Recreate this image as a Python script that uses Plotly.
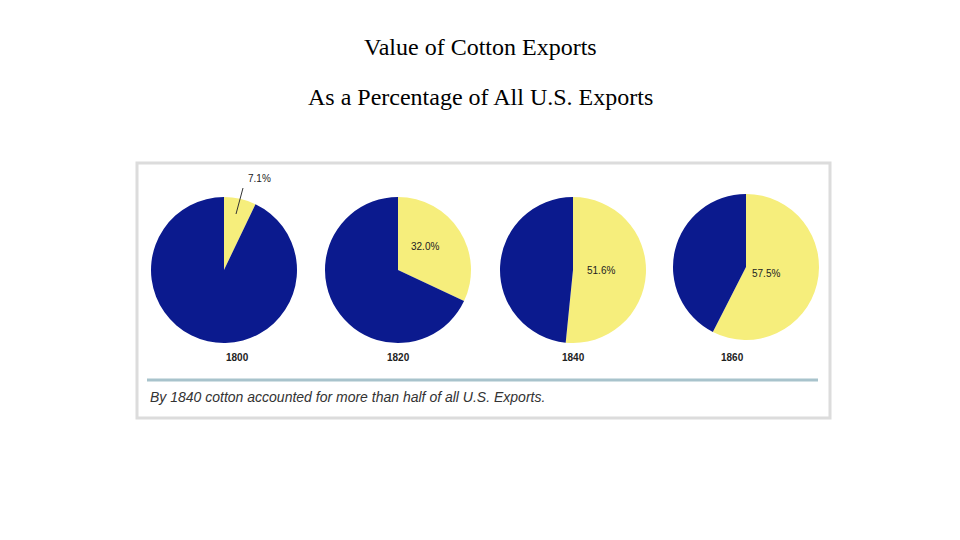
import plotly.graph_objects as go

years = ['1800', '1820', '1840', '1860']
cotton_pct = [7.1, 32.0, 51.6, 57.5]
pct_labels = ['7.1%', '32.0%', '51.6%', '57.5%']

W, H = 960, 540
OFF = 8  # page body margin
NAVY = '#0b1a8e'
YELLOW = '#f6ee7c'

# pie centres / radius in pixels (layout only)
centres = [(224, 270), (398, 270), (573, 270), (746, 267)]
radius = 73
label_pos = [(246, 178), (425, 246), (601, 270), (782, 273)]


def px(x):
    return (x - OFF) / W


def py(y):
    return 1 - (y - OFF) / H


fig = go.Figure()
for i, yr in enumerate(years):
    cx, cy = centres[i]
    fig.add_trace(go.Pie(
        values=[cotton_pct[i], 100 - cotton_pct[i]],
        labels=['Cotton', 'Other'],
        marker=dict(colors=[YELLOW, NAVY], line=dict(width=0)),
        sort=False, direction='clockwise', rotation=0,
        textinfo='none', hoverinfo='label+percent',
        showlegend=False,
        domain=dict(x=[px(cx - radius), px(cx + radius)],
                    y=[py(cy + radius), py(cy - radius)]),
    ))

annotations = []
for i, yr in enumerate(years):
    annotations.append(dict(x=px(centres[i][0]), y=py(357), text=f'<b>{yr}</b>',
                            showarrow=False, yanchor='middle',
                            font=dict(size=10, color='#222', family='Arial')))
    lx, ly = label_pos[i]
    annotations.append(dict(x=px(lx), y=py(ly), text=pct_labels[i], showarrow=False,
                            yanchor='middle',
                            font=dict(size=10, color='#222', family='Arial')))

annotations += [
    dict(x=px(480), y=py(47), text='Value of Cotton Exports', showarrow=False,
         yanchor='middle', font=dict(size=24, family='Liberation Serif', color='black')),
    dict(x=px(480), y=py(97), text='As a Percentage of All U.S. Exports', showarrow=False,
         yanchor='middle', font=dict(size=24, family='Liberation Serif', color='black')),
    dict(x=px(148), y=py(397), xanchor='left', yanchor='middle',
         text='<i>By 1840 cotton accounted for more than half of all U.S. Exports.</i>',
         showarrow=False, font=dict(size=14, family='Liberation Sans', color='#333')),
]

shapes = [
    dict(type='rect', xref='paper', yref='paper', x0=px(137), x1=px(830),
         y0=py(418), y1=py(163), line=dict(color='#dcdcdc', width=3), layer='below'),
    dict(type='line', xref='paper', yref='paper', x0=px(147), x1=px(818),
         y0=py(380), y1=py(380), line=dict(color='#a8c3cc', width=3)),
    dict(type='line', xref='paper', yref='paper', x0=px(243), x1=px(236),
         y0=py(188), y1=py(214), line=dict(color='#333', width=1)),
]

fig.update_layout(
    width=W, height=H, margin=dict(l=0, r=0, t=0, b=0),
    paper_bgcolor='white', plot_bgcolor='white',
    annotations=annotations, shapes=shapes,
)

fig.write_html('out.html')
